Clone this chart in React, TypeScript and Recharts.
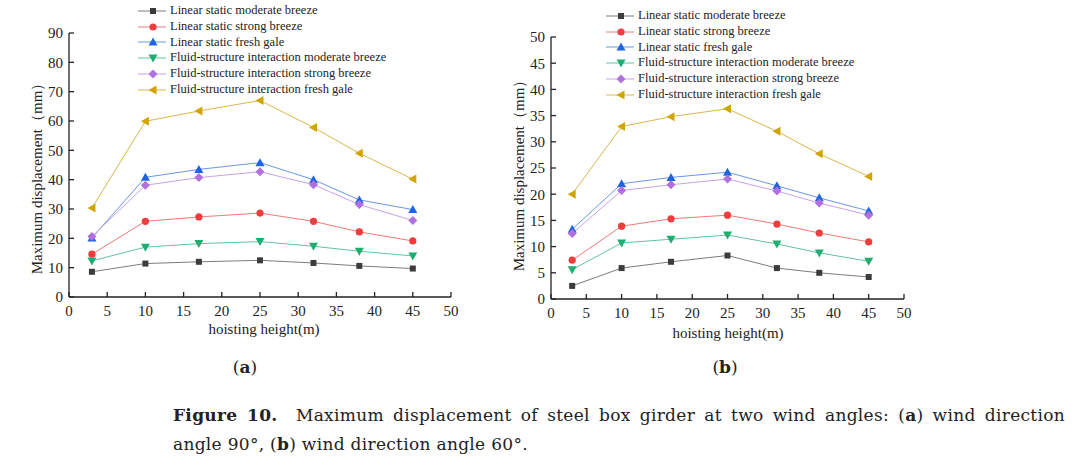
import { LineChart, Line, XAxis, YAxis, Legend } from "recharts";

// hoisting heights (m)
const heights = [3, 10, 17, 25, 32, 38, 45];

const seriesNames = [
  "Linear static moderate breeze",
  "Linear static strong breeze",
  "Linear static fresh gale",
  "Fluid-structure interaction moderate breeze",
  "Fluid-structure interaction strong breeze",
  "Fluid-structure interaction fresh gale",
];
const seriesColors = ["#3c3c3c", "#f03c3c", "#1e64e0", "#1fae72", "#b070e0", "#d2a400"];
const lineColors = ["#7c7c7c", "#f07a7a", "#6a98e2", "#62c49a", "#c8a2ea", "#d8b84e"];
const seriesShapes = ["square", "circle", "up", "down", "diamond", "left"];

// (a) wind direction angle 90
const lsModerateA = [8.6, 11.4, 12.0, 12.5, 11.6, 10.6, 9.7];
const lsStrongA = [14.6, 25.8, 27.3, 28.6, 25.8, 22.2, 19.1];
const lsGaleA = [20.1, 40.8, 43.5, 45.8, 40.0, 33.1, 29.8];
const fsiModerateA = [12.3, 17.0, 18.2, 18.9, 17.3, 15.6, 14.0];
const fsiStrongA = [20.6, 38.1, 40.7, 42.7, 38.3, 31.5, 26.1];
const fsiGaleA = [30.3, 59.9, 63.4, 67.0, 57.8, 49.0, 40.2];

// (b) wind direction angle 60
const lsModerateB = [2.5, 5.9, 7.1, 8.3, 5.9, 5.0, 4.2];
const lsStrongB = [7.4, 13.9, 15.3, 16.0, 14.3, 12.6, 10.9];
const lsGaleB = [13.3, 22.0, 23.2, 24.2, 21.6, 19.3, 16.8];
const fsiModerateB = [5.6, 10.7, 11.4, 12.2, 10.5, 8.8, 7.2];
const fsiStrongB = [12.5, 20.7, 21.8, 22.9, 20.6, 18.3, 16.0];
const fsiGaleB = [20.0, 32.9, 34.8, 36.3, 32.0, 27.7, 23.4];

const xTicks = [0, 5, 10, 15, 20, 25, 30, 35, 40, 45, 50];
const yTicksA = [0, 10, 20, 30, 40, 50, 60, 70, 80, 90];
const yTicksB = [0, 5, 10, 15, 20, 25, 30, 35, 40, 45, 50];

const buildRows = (series: number[][]) =>
  heights.map((h, i) => {
    const row: Record<string, number> = { h };
    series.forEach((s, k) => (row["s" + k] = s[i]));
    return row;
  });

const dataA = buildRows([lsModerateA, lsStrongA, lsGaleA, fsiModerateA, fsiStrongA, fsiGaleA]);
const dataB = buildRows([lsModerateB, lsStrongB, lsGaleB, fsiModerateB, fsiStrongB, fsiGaleB]);

const serif = "'Liberation Serif', 'Times New Roman', serif";

function Marker({ shape, cx, cy, color }: { shape: string; cx: number; cy: number; color: string }) {
  if (shape === "square") return <rect x={cx - 3} y={cy - 3} width={6} height={6} fill={color} />;
  if (shape === "circle") return <circle cx={cx} cy={cy} r={3.6} fill={color} />;
  if (shape === "up")
    return <polygon points={`${cx},${cy - 4.5} ${cx + 4.5},${cy + 3.5} ${cx - 4.5},${cy + 3.5}`} fill={color} />;
  if (shape === "down")
    return <polygon points={`${cx},${cy + 4.5} ${cx + 4.5},${cy - 3.5} ${cx - 4.5},${cy - 3.5}`} fill={color} />;
  if (shape === "diamond")
    return <polygon points={`${cx},${cy - 4.5} ${cx + 4.5},${cy} ${cx},${cy + 4.5} ${cx - 4.5},${cy}`} fill={color} />;
  return <polygon points={`${cx - 4.5},${cy} ${cx + 3.5},${cy - 4.5} ${cx + 3.5},${cy + 4.5}`} fill={color} />;
}

function LegendBox() {
  return (
    <div style={{ fontFamily: serif, fontSize: 12.5, color: "#222", lineHeight: "15.8px" }}>
      {seriesNames.map((name, i) => (
        <div key={name} style={{ display: "flex", alignItems: "center", height: 15.8, whiteSpace: "nowrap" }}>
          <svg width={32} height={12}>
            <line x1={0} y1={6} x2={28} y2={6} stroke={lineColors[i]} strokeWidth={1} />
            <Marker shape={seriesShapes[i]} cx={15} cy={6} color={seriesColors[i]} />
          </svg>
          <span>{name}</span>
        </div>
      ))}
    </div>
  );
}

function Panel(props: {
  data: Record<string, number>[];
  yMax: number;
  yTicks: number[];
  width: number;
  height: number;
  margin: { top: number; right: number; bottom: number; left: number };
  yWidth: number;
  legendLeft: number;
  legendTop: number;
}) {
  const tickStyle = { fontFamily: serif, fontSize: 15, fill: "#222" };
  return (
    <LineChart width={props.width} height={props.height} data={props.data} margin={props.margin}>
      <XAxis
        type="number"
        dataKey="h"
        domain={[0, 50]}
        ticks={xTicks}
        interval={0}
        height={38}
        stroke="#222"
        strokeWidth={1.3}
        tickSize={-5}
        tickMargin={13}
        tick={tickStyle}
      />
      <YAxis
        type="number"
        domain={[0, props.yMax]}
        ticks={props.yTicks}
        interval={0}
        width={props.yWidth}
        stroke="#222"
        strokeWidth={1.3}
        tickSize={-5}
        tickMargin={11}
        tick={tickStyle}
      />
      <Legend
        layout="vertical"
        align="center"
        verticalAlign="middle"
        content={() => <LegendBox />}
        wrapperStyle={{ left: props.legendLeft, top: props.legendTop, width: "auto", height: "auto" }}
      />
      {seriesNames.map((name, i) => (
        <Line
          key={name}
          name={name}
          dataKey={"s" + i}
          stroke={lineColors[i]}
          strokeWidth={1}
          isAnimationActive={false}
          dot={(p: any) => (
            <Marker key={name + p.index} shape={seriesShapes[i]} cx={p.cx} cy={p.cy} color={seriesColors[i]} />
          )}
          activeDot={false}
        />
      ))}
    </LineChart>
  );
}

const abs = (left: number, top: number): React.CSSProperties => ({ position: "absolute", left, top });

export default function App() {
  const axisTitle = { fontFamily: serif, fontSize: 15, color: "#222", whiteSpace: "nowrap" as const };
  const caption = {
    fontFamily: "'DejaVu Serif', serif",
    fontSize: 17,
    letterSpacing: 0.3,
    color: "#222",
    whiteSpace: "nowrap" as const,
  };
  return (
    <div style={{ position: "absolute", left: 0, top: 0, width: 1080, height: 465, background: "#fff", overflow: "hidden" }}>
      <div style={abs(0, 0)}>
        <Panel
          data={dataA}
          yMax={90}
          yTicks={yTicksA}
          width={470}
          height={340}
          margin={{ top: 33, right: 19, bottom: 5, left: 0 }}
          yWidth={69}
          legendLeft={138}
          legendTop={3}
        />
      </div>
      <div style={abs(480, 0)}>
        <Panel
          data={dataB}
          yMax={50}
          yTicks={yTicksB}
          width={440}
          height={340}
          margin={{ top: 37, right: 16, bottom: 3, left: 0 }}
          yWidth={71}
          legendLeft={126}
          legendTop={8}
        />
      </div>

      {/* axis titles */}
      <div style={{ ...abs(264, 329), ...axisTitle, transform: "translate(-50%, -50%)" }}>hoisting height(m)</div>
      <div style={{ ...abs(728, 333), ...axisTitle, transform: "translate(-50%, -50%)" }}>hoisting height(m)</div>
      <div style={{ ...abs(37, 175), ...axisTitle, transform: "translate(-50%, -50%) rotate(-90deg)" }}>
        Maximum displacement（mm）
      </div>
      <div style={{ ...abs(519, 172), ...axisTitle, transform: "translate(-50%, -50%) rotate(-90deg)" }}>
        Maximum displacement（mm）
      </div>

      {/* panel letters */}
      <div style={{ ...abs(245, 367), ...caption, letterSpacing: 0, transform: "translate(-50%, -50%)" }}>
        (<b>a</b>)
      </div>
      <div style={{ ...abs(725, 367), ...caption, letterSpacing: 0, transform: "translate(-50%, -50%)" }}>
        (<b>b</b>)
      </div>

      {/* caption */}
      <div
        style={
          {
            ...abs(173, 403),
            ...caption,
            width: 892,
            lineHeight: "24px",
            textAlign: "justify",
            textAlignLast: "justify",
          } as React.CSSProperties
        }
      >
        <b>Figure 10.</b>&nbsp; Maximum displacement of steel box girder at two wind angles: (<b>a</b>) wind direction
      </div>
      <div style={{ ...abs(173, 432), ...caption, lineHeight: "24px" }}>
        angle 90°, (<b>b</b>) wind direction angle 60°.
      </div>
    </div>
  );
}
